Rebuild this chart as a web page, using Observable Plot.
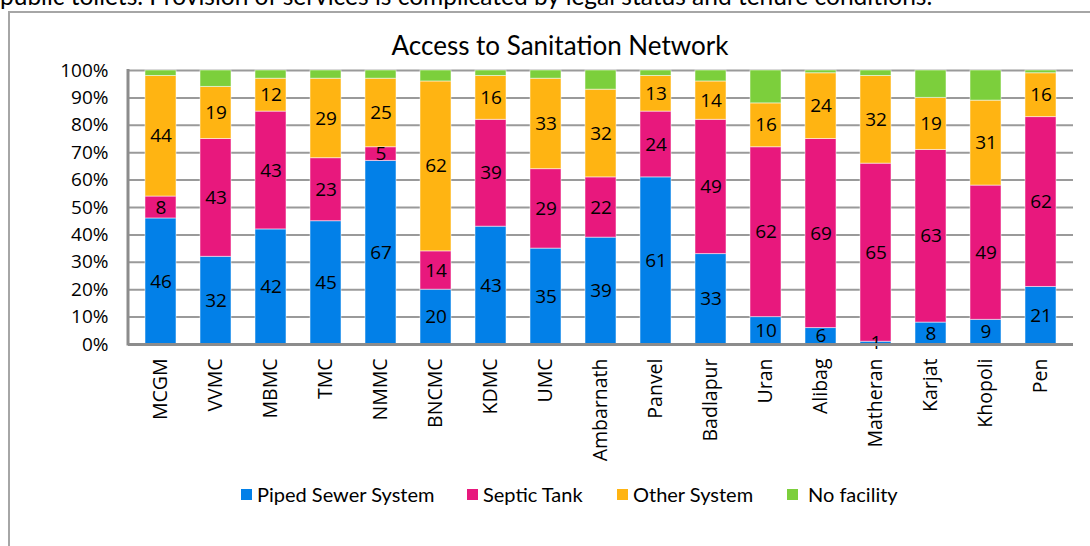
<!DOCTYPE html>
<html><head><meta charset="utf-8">
<script src="https://cdn.jsdelivr.net/npm/d3@7"></script>
<script src="https://cdn.jsdelivr.net/npm/@observablehq/plot@0.6"></script>
<style>
body{margin:0;width:1090px;height:546px;overflow:hidden;background:#fff;position:relative;font-family:Lato,sans-serif;color:#000;}
#intro{position:absolute;left:0;top:-16px;font-size:24.5px;line-height:24.5px;white-space:nowrap;}
#frame{position:absolute;left:8px;top:11px;width:1200px;height:700px;border-left:2px solid #a6a6a6;border-top:2px solid #a6a6a6;}
#title{position:absolute;left:0;width:1120px;top:30px;text-align:center;font-size:26px;line-height:30px;}
#chart{position:absolute;left:0;top:40px;}
.leg{position:absolute;top:482px;font-size:20px;line-height:24px;white-space:nowrap;display:flex;align-items:center;}
.leg span.sw{display:inline-block;width:11px;height:11px;margin-right:5px;}
</style>
</head><body>
<div id="intro">public toilets. Provision of services is complicated by legal status and tenure conditions.</div>
<div id="frame"></div>
<div id="chart"></div>
<div id="title">Access to Sanitation Network</div>
<div id="legend"></div>
<script>
const cities = ["MCGM","VVMC","MBMC","TMC","NMMC","BNCMC","KDMC","UMC","Ambarnath","Panvel","Badlapur","Uran","Alibag","Matheran","Karjat","Khopoli","Pen"];
const piped      = [46,32,42,45,67,20,43,35,39,61,33,10, 6, 1, 8, 9,21];
const septic     = [ 8,43,43,23, 5,14,39,29,22,24,49,62,69,65,63,49,62];
const other      = [44,19,12,29,25,62,16,33,32,13,14,16,24,32,19,31,16];
const noFacility = [ 2, 6, 3, 3, 3, 4, 2, 3, 7, 2, 4,12, 1, 2,10,11, 1];
const seriesNames = ["Piped Sewer System","Septic Tank","Other System","No facility"];
const seriesColors = ["#0280e8","#e8187d","#ffb412","#7ccf3c"];
const yTicks = [0,10,20,30,40,50,60,70,80,90,100];
const legendX = [241,467,617,787];

const seriesValues = [piped, septic, other, noFacility];
const rows = [];
cities.forEach((c, i) => {
  seriesValues.forEach((vals, s) => rows.push({city: c, series: seriesNames[s], value: vals[i]}));
});
const labelRows = rows.filter(d => d.series !== "No facility");

const leftLine = (index, scales, values, dims) => {
  const l = document.createElementNS("http://www.w3.org/2000/svg", "line");
  l.setAttribute("x1", dims.marginLeft); l.setAttribute("x2", dims.marginLeft);
  l.setAttribute("y1", dims.marginTop - 1); l.setAttribute("y2", dims.height - dims.marginBottom + 1.5);
  l.setAttribute("stroke", "#8c8c8c"); l.setAttribute("stroke-width", 3);
  return l;
};

const chart = Plot.plot({
  width: 1090, height: 430,
  marginTop: 30, marginBottom: 126, marginLeft: 128, marginRight: 17,
  style: {fontFamily: "'Open Sans', sans-serif", fontSize: "19px", color: "#000", background: "transparent"},
  x: {domain: cities, paddingInner: 0.44, paddingOuter: 0.22, label: null},
  y: {domain: [0, 100], label: null},
  color: {domain: seriesNames, range: seriesColors},
  marks: [
    Plot.gridY(yTicks, {stroke: "#9a9a9a", strokeOpacity: 1, strokeWidth: 2}),
    Plot.barY(rows, {x: "city", y: "value", fill: "series", z: "series", stroke: "#fff", strokeOpacity: 0.5, strokeWidth: 1}),
    Plot.text(labelRows, Plot.stackY({x: "city", y: "value", z: "series", text: d => String(d.value), fill: "#000", fontSize: 19})),
    Plot.ruleY([0], {stroke: "#8c8c8c", strokeWidth: 3}),
    leftLine,
    Plot.axisY(yTicks, {tickSize: 0, tickPadding: 20, tickFormat: d => d + "%", fontSize: 19}),
    Plot.axisX({tickSize: 0, tickPadding: 14, tickRotate: -90, fontSize: 19.5, label: null})
  ]
});
document.getElementById("chart").appendChild(chart);

const leg = document.getElementById("legend");
seriesNames.forEach((name, i) => {
  const d = document.createElement("div");
  d.className = "leg";
  d.style.left = legendX[i] + "px";
  const sw = document.createElement("span");
  sw.className = "sw"; sw.style.background = seriesColors[i];
  if (i === 3) sw.style.marginRight = "10px";
  d.appendChild(sw);
  d.appendChild(document.createTextNode(name));
  leg.appendChild(d);
});
</script>
</body></html>
